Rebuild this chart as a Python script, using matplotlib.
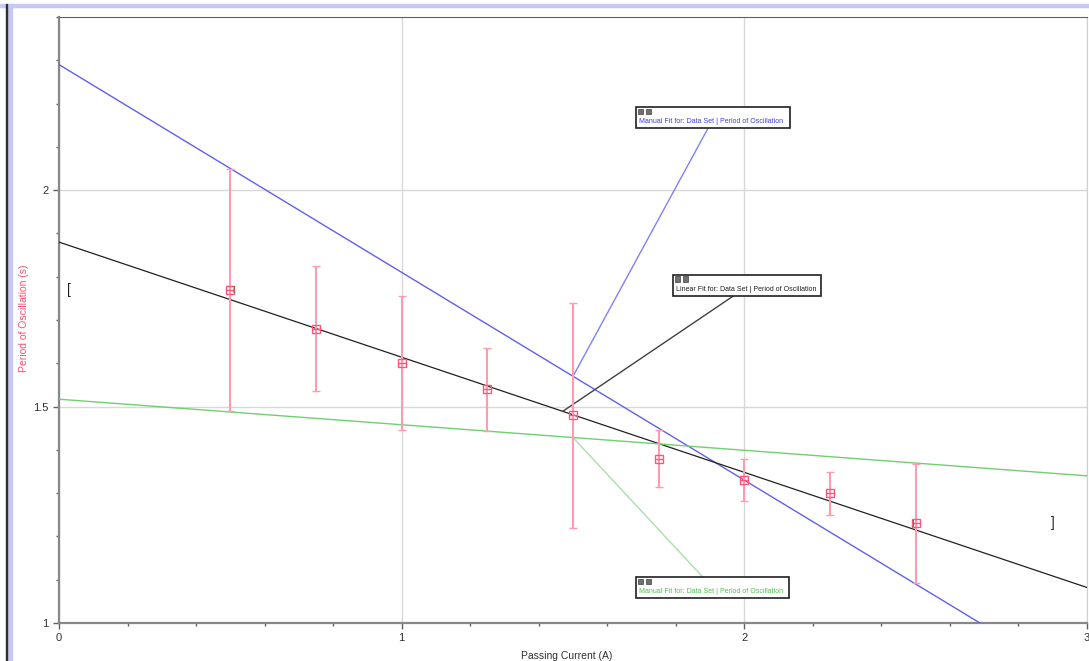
import matplotlib.pyplot as plt
import matplotlib.patches as mpatches
import numpy as np

plt.rcParams['font.family'] = ['Liberation Sans', 'DejaVu Sans']

# measured data
current = [0.5, 0.75, 1.0, 1.25, 1.5, 1.75, 2.0, 2.25, 2.5]
period = [1.77, 1.68, 1.60, 1.54, 1.48, 1.38, 1.33, 1.30, 1.23]
period_err = [0.28, 0.145, 0.155, 0.096, 0.26, 0.065, 0.048, 0.05, 0.138]

# fits: (intercept, slope)
manual_hi = (2.29, -0.48)
linear_fit = (1.88, -0.266)
manual_lo = (1.517, -0.059)

fig = plt.figure(figsize=(10.89, 6.61), dpi=100)
ax = fig.add_axes([59/1089, 38/661, 1028/1089, 606/661])

# window frame
fig.patches.append(mpatches.Rectangle((0, 1 - 7/661), 1, 3/661, transform=fig.transFigure,
                                      color='#c8c8f4', zorder=0))
fig.patches.append(mpatches.Rectangle((7/1089, 0), 5/1089, 1 - 4/661, transform=fig.transFigure,
                                      color='#c8c8f4', zorder=0))
fig.patches.append(mpatches.Rectangle((6/1089, 0), 1.2/1089, 1 - 4/661, transform=fig.transFigure,
                                      color='#303030', zorder=0))

ax.set_xlim(0, 3)
ax.set_ylim(1, 2.4)

xs = np.array([0, 3])
ax.plot(xs, manual_hi[0] + manual_hi[1] * xs, color='#6060f0', lw=1, zorder=3)
ax.plot(xs, linear_fit[0] + linear_fit[1] * xs, color='#202020', lw=0.9, zorder=3)
ax.plot(xs, manual_lo[0] + manual_lo[1] * xs, color='#70d070', lw=1, zorder=3)

ax.errorbar(current, period, yerr=period_err, fmt='none', ecolor='#ff9ab0', elinewidth=1.5,
            capsize=3, capthick=1, zorder=4)
ax.plot(current, period, ls='none', marker='s', ms=6, mfc='none', mec='#ff5577', mew=1, zorder=5)
ax.plot(current, period, ls='none', marker='_', ms=6, mec='#ff5577', mew=1, zorder=5)

# selection brackets
ax.text(0.03, 1.77, '[', fontsize=10, ha='center', va='center', color='#202020')
ax.text(2.9, 1.23, ']', fontsize=10, ha='center', va='center', color='#202020')
ax.text(0.505, 1.77, '[', fontsize=6, ha='left', va='center', color='#208020', zorder=6)
ax.text(2.495, 1.23, ']', fontsize=6, ha='right', va='center', color='#208020', zorder=6)


def fit_box(x0, x1, y0, y1, label, color, anchor, target, lcolor):
    ax.plot([anchor[0], target[0]], [anchor[1], target[1]], color=lcolor, lw=1, zorder=3)
    ax.add_patch(mpatches.Rectangle((x0, y0), x1 - x0, y1 - y0, facecolor='white',
                                    edgecolor='#202020', lw=1.2, zorder=7))
    h = (y1 - y0)
    for dx in (0.006, 0.03):
        ax.add_patch(mpatches.Rectangle((x0 + dx, y1 - 0.33 * h), 0.014, 0.26 * h,
                                        facecolor='#707070', edgecolor='#404040', lw=0.5, zorder=8))
    ax.text(x0 + 0.008, y0 + 0.3 * h, label, fontsize=5, color=color, ha='left',
            va='center', zorder=8)


def on(fit, x):
    return (x, fit[0] + fit[1] * x)


fit_box(1.684, 2.133, 2.143, 2.192, 'Manual Fit for: Data Set | Period of Oscillation',
        '#4040e0', (1.894, 2.143), on(manual_hi, 1.5), '#8080ff')
fit_box(1.792, 2.224, 1.755, 1.804, 'Linear Fit for: Data Set | Period of Oscillation',
        '#202020', (1.967, 1.755), on(linear_fit, 1.47), '#404040')
fit_box(1.684, 2.130, 1.058, 1.106, 'Manual Fit for: Data Set | Period of Oscillation',
        '#50c050', (1.879, 1.106), on(manual_lo, 1.5), '#a8e0a8')

ax.set_xticks([0, 1, 2, 3])
ax.set_xticks(np.arange(0, 3.01, 0.2), minor=True)
ax.set_yticks([1, 1.5, 2])
ax.set_yticklabels(['1', '1.5', '2'])
ax.set_yticks(np.arange(1, 2.41, 0.1), minor=True)
ax.grid(True, which='major', color='#d8d8d8', lw=1)
ax.set_axisbelow(True)

ax.tick_params(which='both', direction='out', colors='#606060', labelcolor='#303030',
               labelsize=8)
ax.tick_params(which='major', length=4, width=1)
ax.tick_params(which='minor', length=2, width=1)

for s in ('left', 'bottom'):
    ax.spines[s].set_color('#888888')
    ax.spines[s].set_linewidth(1.6)
ax.spines['top'].set_color('#606060')
ax.spines['top'].set_linewidth(0.8)
ax.spines['right'].set_color('#d0d0d0')
ax.spines['right'].set_linewidth(0.8)

ax.set_xlabel('Passing Current (A)', fontsize=7.5, color='#303030')
ax.xaxis.set_label_coords(0.494, -0.046)
ax.set_ylabel('Period of Oscillation (s)', fontsize=7.5, color='#ff5070')
ax.yaxis.set_label_coords(-0.029, 0.503)

fig.savefig('out.png', dpi=100)
